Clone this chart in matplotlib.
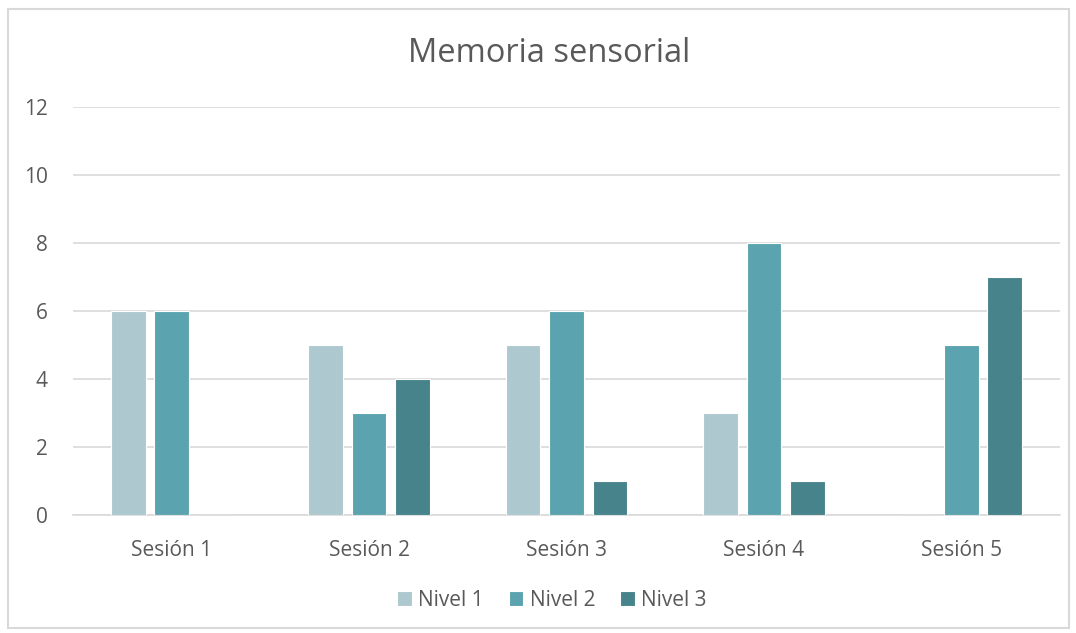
import matplotlib
matplotlib.use('Agg')
import matplotlib.pyplot as plt
import numpy as np
from matplotlib.patches import Rectangle

# Datos del gráfico
sesiones = ['Sesión 1', 'Sesión 2', 'Sesión 3', 'Sesión 4', 'Sesión 5']
nivel_1 = [6, 5, 5, 3, 0]
nivel_2 = [6, 3, 6, 8, 5]
nivel_3 = [0, 4, 1, 1, 7]
series = ['Nivel 1', 'Nivel 2', 'Nivel 3']
colores = ['#AEC8CF', '#5BA3AF', '#47838B']
y_ticks = [0, 2, 4, 6, 8, 10, 12]

plt.rcParams['font.family'] = ['Open Sans', 'DejaVu Sans']

fig = plt.figure(figsize=(10.76, 6.33), dpi=100)
ax = fig.add_axes([73 / 1076, 1 - 515 / 633, (1060 - 73) / 1076, (515 - 107) / 633])

# marco exterior
fig.patches.append(Rectangle((8 / 1076, 5 / 633), 1061 / 1076, 619 / 633,
                             transform=fig.transFigure, fill=False,
                             edgecolor='#D9D9D9', linewidth=1.5))

x = np.arange(len(sesiones))
ancho = 0.176
paso = 0.22
for i, (vals, nombre, col) in enumerate(zip([nivel_1, nivel_2, nivel_3], series, colores)):
    ax.bar(x + (i - 1) * paso, vals, width=ancho, color=col, label=nombre,
           edgecolor='white', linewidth=0.8, zorder=3)

ax.set_xlim(-0.5, len(sesiones) - 0.5)
ax.set_ylim(0, 12)
ax.set_yticks(y_ticks)
ax.set_xticks(x)
ax.set_xticklabels(sesiones)
ax.grid(axis='y', color='#D9D9D9', linewidth=1.2, zorder=0)
for s in ['top', 'right', 'left']:
    ax.spines[s].set_visible(False)
ax.spines['bottom'].set_color('#D9D9D9')
ax.spines['bottom'].set_linewidth(1.2)
ax.tick_params(axis='both', length=0, labelsize=15, colors='#595959')
ax.tick_params(axis='y', pad=18)
ax.tick_params(axis='x', pad=18)

fig.text(549 / 1076, 1 - 53 / 633, 'Memoria sensorial', ha='center', va='center',
         fontsize=23.5, color='#595959')

fig.legend(loc='center', bbox_to_anchor=(552 / 1076, 1 - 600 / 633), ncol=3, frameon=False,
           fontsize=15, labelcolor='#595959', handlelength=0.7, handleheight=0.7,
           handletextpad=0.3, columnspacing=1.2)

fig.savefig('out.png', dpi=100)
